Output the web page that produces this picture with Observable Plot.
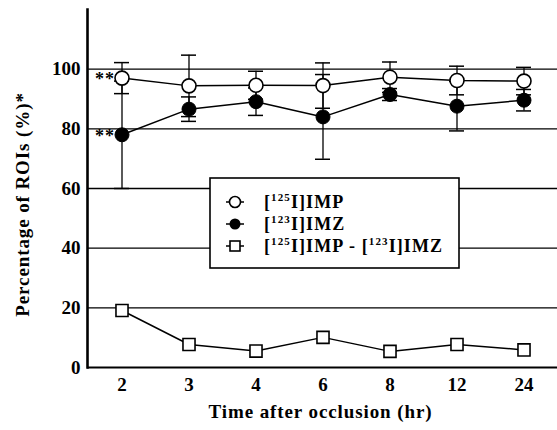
<!DOCTYPE html>
<html>
<head>
<meta charset="utf-8">
<script src="https://cdn.jsdelivr.net/npm/d3@7"></script>
<script src="https://cdn.jsdelivr.net/npm/@observablehq/plot@0.6"></script>
<style>
  body { margin: 0; background: white; }
  g[aria-label="text"] text { letter-spacing: 0.9px; }
  g.legend text { letter-spacing: 1.1px; }
</style>
</head>
<body>
<div id="chart"></div>
<script>
// Data
const times   = ["2", "3", "4", "6", "8", "12", "24"];
const impMean = [97.0, 94.4, 94.6, 94.5, 97.3, 96.2, 96.0];
const impSD   = [5.2, 10.3, 4.7, 7.6, 5.1, 4.8, 4.6];
const imzMean = [78.0, 86.6, 89.1, 84.0, 91.5, 87.6, 89.6];
const imzSD   = [18.0, 4.1, 4.6, 14.2, 2.0, 8.3, 3.6];
const diffMean = [19.1, 7.7, 5.5, 10.1, 5.4, 7.7, 5.9];
const yTicks  = [0, 20, 40, 60, 80, 100];
const gridValues = [20, 40, 60, 80, 100];
const sigMarks = ["**", "**"];
const yLabel = "Percentage of ROIs (%)*";
const xLabel = "Time after occlusion (hr)";
const legendItems = [
  {key: "imp", parts: [["[", false], ["125", true], ["I]IMP", false]]},
  {key: "imz", parts: [["[", false], ["123", true], ["I]IMZ", false]]},
  {key: "diff", parts: [["[", false], ["125", true], ["I]IMP - [", false], ["123", true], ["I]IMZ", false]]}
];

const rows = times.map((t, i) => ({
  time: t,
  imp: impMean[i], impSD: impSD[i],
  imz: imzMean[i], imzSD: imzSD[i],
  diff: diffMean[i]
}));
const sigRows = [
  {time: times[0], y: impMean[0], text: sigMarks[0]},
  {time: times[0], y: imzMean[0], text: sigMarks[1]}
];

const capInset = 26;

const chart = Plot.plot({
  width: 557,
  height: 430,
  marginLeft: 87,
  marginRight: 0,
  marginTop: 9,
  marginBottom: 63,
  style: {fontFamily: "Liberation Serif, 'DejaVu Serif', serif", fontWeight: "bold", fontSize: "19px", background: "white", color: "black"},
  x: {type: "band", domain: times, padding: 0},
  y: {domain: [0, 120]},
  marks: [
    Plot.ruleY(gridValues, {stroke: "black", strokeWidth: 1.3}),
    Plot.ruleY([0], {stroke: "black", strokeWidth: 2.2}),
    Plot.frame({anchor: "left", stroke: "black", strokeWidth: 2.6}),
    // error bars IMZ
    Plot.ruleX(rows, {x: "time", y1: d => d.imz - d.imzSD, y2: d => d.imz + d.imzSD, stroke: "black", strokeWidth: 1.3}),
    Plot.tickY(rows, {x: "time", y: d => d.imz - d.imzSD, insetLeft: capInset, insetRight: capInset, stroke: "black", strokeWidth: 1.5}),
    Plot.tickY(rows, {x: "time", y: d => d.imz + d.imzSD, insetLeft: capInset, insetRight: capInset, stroke: "black", strokeWidth: 1.5}),
    // error bars IMP
    Plot.ruleX(rows, {x: "time", y1: d => d.imp - d.impSD, y2: d => d.imp + d.impSD, stroke: "black", strokeWidth: 1.3}),
    Plot.tickY(rows, {x: "time", y: d => d.imp - d.impSD, insetLeft: capInset, insetRight: capInset, stroke: "black", strokeWidth: 1.5}),
    Plot.tickY(rows, {x: "time", y: d => d.imp + d.impSD, insetLeft: capInset, insetRight: capInset, stroke: "black", strokeWidth: 1.5}),
    // lines
    Plot.line(rows, {x: "time", y: "imp", stroke: "black", strokeWidth: 1.5}),
    Plot.line(rows, {x: "time", y: "imz", stroke: "black", strokeWidth: 1.5}),
    Plot.line(rows, {x: "time", y: "diff", stroke: "black", strokeWidth: 1.5}),
    // markers
    Plot.dot(rows, {x: "time", y: "imp", r: 7, fill: "white", stroke: "black", strokeWidth: 1.6}),
    Plot.dot(rows, {x: "time", y: "imz", r: 7, fill: "black", stroke: "black", strokeWidth: 1}),
    Plot.dot(rows, {x: "time", y: "diff", symbol: "square", r: 6.8, fill: "white", stroke: "black", strokeWidth: 1.6}),
    // significance marks
    Plot.text(sigRows, {x: "time", y: "y", text: "text", dx: -17, dy: 1, fontSize: 18, fill: "black"}),
    // axes
    Plot.axisY({ticks: yTicks, tickSize: 0, tickPadding: 7, label: null, fontSize: 19}),
    Plot.axisX({tickSize: 0, tickPadding: 10, label: null, fontSize: 19}),
    Plot.text([yLabel], {frameAnchor: "left", textAnchor: "middle", rotate: -90, dx: -65, dy: 16, fontSize: 19, fill: "black"}),
    Plot.text([xLabel], {frameAnchor: "bottom", textAnchor: "middle", dy: 50, dx: -2, fontSize: 19, fill: "black"})
  ]
});

document.getElementById("chart").appendChild(chart);

// Legend box drawn inside the plot SVG
const svg = d3.select(chart);
const lg = svg.append("g").attr("class", "legend").attr("text-anchor", "start");
const box = {x: 210, y: 178, w: 249, h: 90};
lg.append("rect")
  .attr("x", box.x).attr("y", box.y).attr("width", box.w).attr("height", box.h)
  .attr("fill", "white").attr("stroke", "black").attr("stroke-width", 1.6);
const rowY = [202, 224, 246];
legendItems.forEach((item, i) => {
  const cy = rowY[i];
  const sx = 235;
  lg.append("line").attr("x1", sx - 9).attr("x2", sx + 9).attr("y1", cy).attr("y2", cy)
    .attr("stroke", "black").attr("stroke-width", 1.5);
  if (item.key === "imp") {
    lg.append("circle").attr("cx", sx).attr("cy", cy).attr("r", 5.5)
      .attr("fill", "white").attr("stroke", "black").attr("stroke-width", 1.6);
  } else if (item.key === "imz") {
    lg.append("circle").attr("cx", sx).attr("cy", cy).attr("r", 5.5).attr("fill", "black");
  } else {
    lg.append("rect").attr("x", sx - 5).attr("y", cy - 5).attr("width", 10).attr("height", 10)
      .attr("fill", "white").attr("stroke", "black").attr("stroke-width", 1.6);
  }
  const t = lg.append("text").attr("x", 264).attr("y", cy + 6)
    .attr("text-anchor", "start")
    .attr("font-size", 18).attr("font-weight", "bold").attr("fill", "black");
  item.parts.forEach(([s, sup]) => {
    if (sup) {
      t.append("tspan").attr("font-size", 11).attr("dy", -7).text(s);
    } else {
      const ts = t.append("tspan").text(s);
      if (t.selectAll("tspan").size() > 1) ts.attr("dy", 7);
    }
  });
});
</script>
</body>
</html>
